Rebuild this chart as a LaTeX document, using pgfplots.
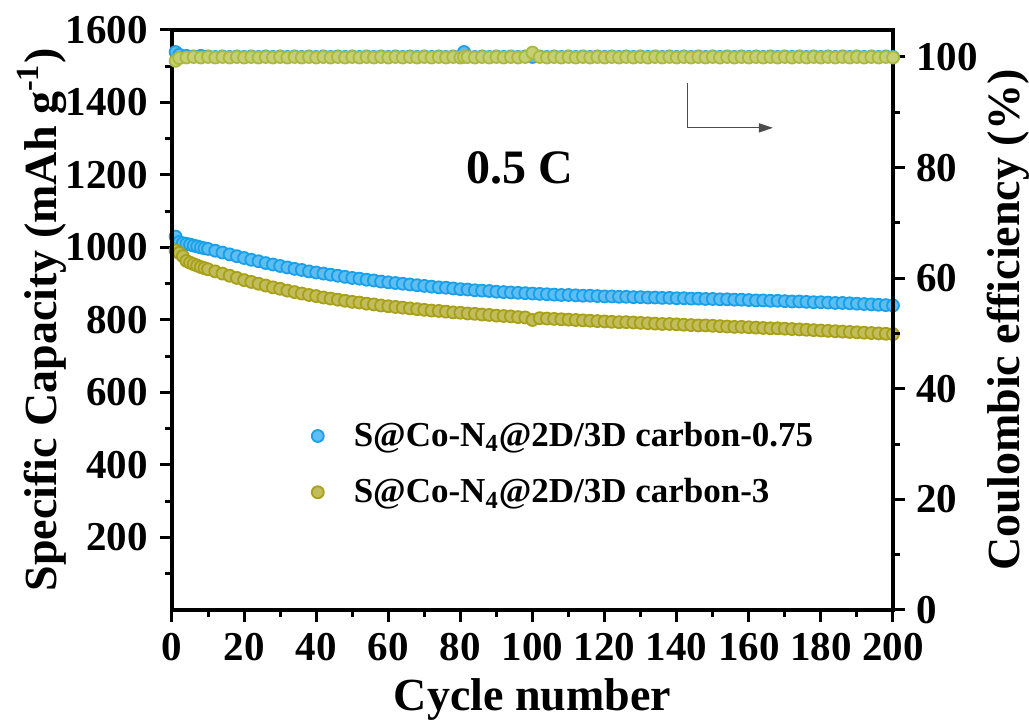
\documentclass[border=0pt]{standalone}
\usepackage{fontspec}
\setmainfont{Liberation Serif}
\usepackage{pgfplots}
\pgfplotsset{compat=1.18}
\usepackage{pgfplotstable}
\usetikzlibrary{arrows.meta}
\definecolor{cblue}{RGB}{25,160,235}
\definecolor{colive}{RGB}{168,160,22}
\definecolor{cgreen}{RGB}{172,186,60}

\pgfplotstableread{
x A B
1 1030 992
2 1015 985
3 1012 976
4 1010 963
5 1008 958
6 1005 954
7 1003 950
8 1000 946
9 998 943
10 996 940
12 991 934
14 986 928
16 981 922
18 976 916
20 971 910
22 966 905
24 962 900
26 957 895
28 953 890
30 949 886
32 945 881
34 941 877
36 938 873
38 934 869
40 931 866
42 928 862
44 925 859
46 922 856
48 919 853
50 916 850
52 914 848
54 911 845
56 909 843
58 906 840
60 904 838
62 902 836
64 900 834
66 898 832
68 896 830
70 894 828
72 892 826
74 890 825
76 889 823
78 887 821
80 885 820
82 884 818
84 882 817
86 881 815
88 880 814
90 878 812
92 877 811
94 876 810
96 875 808
98 874 807
100 873 800
102 872 805
104 871 804
106 870 803
108 869 802
110 869 801
112 868 800
114 867 799
116 867 798
118 866 797
120 865 796
122 865 795
124 864 794
126 864 794
128 863 793
130 863 792
132 862 791
134 862 790
136 861 789
138 861 789
140 860 788
142 860 787
144 859 786
146 859 785
148 858 785
150 858 784
152 857 783
154 857 782
156 856 781
158 856 781
160 855 780
162 854 779
164 854 778
166 853 777
168 853 777
170 852 776
172 851 775
174 851 774
176 850 773
178 849 772
180 849 771
182 848 770
184 847 769
186 847 768
188 846 767
190 845 766
192 844 765
194 843 764
196 842 763
198 841 762
200 840 761
}\captable

\pgfplotstableread{
x A B
1 100.9 99.3
2 100.4 99.8
4 100.2 99.9
6 100.1 100.0
8 100.2 99.9
10 100.1 100.0
12 100.0 99.9
14 100.1 100.0
16 100.0 99.9
18 100.1 100.0
20 100.0 99.9
22 100.1 100.0
24 100.0 99.9
26 100.1 100.0
28 100.0 99.9
30 100.1 100.0
32 100.0 99.9
34 100.1 100.0
36 100.0 99.9
38 100.1 100.0
40 100.0 99.9
42 100.1 100.0
44 100.0 99.9
46 100.1 100.0
48 100.0 99.9
50 100.1 100.0
52 100.0 99.9
54 100.1 100.0
56 100.0 99.9
58 100.1 100.0
60 100.0 99.9
62 100.1 100.0
64 100.0 99.9
66 100.1 100.0
68 100.0 99.9
70 100.1 100.0
72 100.0 99.9
74 100.1 100.0
76 100.0 99.9
78 100.1 100.0
80 100.0 99.9
81 100.9 100.0
82 100.1 100.0
84 100.0 99.9
86 100.1 100.0
88 100.0 99.9
90 100.1 100.0
92 100.0 99.9
94 100.1 100.0
96 100.0 99.9
98 100.1 100.0
100 100.0 100.8
102 100.1 100.0
104 100.0 99.9
106 100.1 100.0
108 100.0 99.9
110 100.1 100.0
112 100.0 99.9
114 100.1 100.0
116 100.0 99.9
118 100.1 100.0
120 100.0 99.9
122 100.1 100.0
124 100.0 99.9
126 100.1 100.0
128 100.0 99.9
130 100.1 100.0
132 100.0 99.9
134 100.1 100.0
136 100.0 99.9
138 100.1 100.0
140 100.0 99.9
142 100.1 100.0
144 100.0 99.9
146 100.1 100.0
148 100.0 99.9
150 100.1 100.0
152 100.0 99.9
154 100.1 100.0
156 100.0 99.9
158 100.1 100.0
160 100.0 99.9
162 100.1 100.0
164 100.0 99.9
166 100.1 100.0
168 100.0 99.9
170 100.1 100.0
172 100.0 99.9
174 100.1 100.0
176 100.0 99.9
178 100.1 100.0
180 100.0 99.9
182 100.1 100.0
184 100.0 99.9
186 100.1 100.0
188 100.0 99.9
190 100.1 100.0
192 100.0 99.9
194 100.1 100.0
196 100.0 99.9
198 100.1 100.0
200 100.0 99.9
}\cetable

\pgfplotsset{mystyle/.style={
  scale only axis, width=360.5pt, height=290pt,
  xmin=0, xmax=200,
  axis line style={line width=1.6pt},
  every tick/.style={line width=1.5pt, black},
  major tick length=6pt, minor tick length=3.5pt,
  tick align=outside,
  tick label style={font=\fontsize{20.5}{24}\selectfont\bfseries},
  /pgf/number format/assume math mode=true,
  /pgf/number format/1000 sep={},
  xticklabel={\pgfmathtruncatemacro\mytick{round(\tick)}\textbf{\mytick}},
  yticklabel={\pgfmathtruncatemacro\mytick{round(\tick)}\textbf{\mytick}},
}}

\begin{document}
\begin{tikzpicture}
\begin{axis}[mystyle, name=ax,
  ymin=0, ymax=1600,
  xtick={0,20,...,200}, minor x tick num=1,
  ytick={200,400,...,1600}, minor ytick={100,300,...,1500},
  xtick pos=bottom, ytick pos=left,
  xticklabel style={yshift=-2pt},
  yticklabel style={xshift=-2.5pt},
  xlabel={Cycle number},
  ylabel={Specific Capacity (mAh g\textsuperscript{-1})},
  every axis x label/.style={at={(axis description cs:0.5,-0.155)}, anchor=center, font=\fontsize{23}{27}\selectfont\bfseries},
  every axis y label/.style={at={(axis description cs:-0.18,0.5)}, rotate=90, anchor=center, font=\fontsize{23}{27}\selectfont\bfseries},
  legend style={at={(axis description cs:0.185,0.338)}, anchor=north west, draw=none, fill=none,
    font=\fontsize{17.5}{21}\selectfont\bfseries, row sep=10.5pt},
  legend cell align=left,
]
\addplot[only marks, mark=*, mark size=3pt, mark options={draw=cblue, fill=cblue!70!white, line width=0.9pt}]
  table[x=x, y=A] {\captable};
\addlegendentry{\hspace{13pt}S@Co-N\textsubscript{4}@2D/3D carbon-0.75}
\addplot[only marks, mark=*, mark size=3pt, mark options={draw=colive, fill=colive!70!white, line width=0.9pt}]
  table[x=x, y=B] {\captable};
\addlegendentry{\hspace{13pt}S@Co-N\textsubscript{4}@2D/3D carbon-3}
\node[font=\fontsize{24}{28}\selectfont\bfseries] at (axis cs:96.5,1219) {0.5 C};
\draw[black!70, line width=0.6pt, -{Triangle[length=7pt,width=4.5pt]}] (axis cs:142.9,1454) |- (axis cs:166.7,1330);
\end{axis}
\begin{axis}[mystyle,
  ymin=0, ymax=104.88,
  hide x axis,
  ytick={0,20,...,100}, minor ytick={10,30,...,90},
  ytick pos=right, yticklabel pos=right,
  yticklabel style={xshift=2pt},
  ylabel={Coulombic efficiency (\%)},
  every axis y label/.style={at={(axis description cs:1.16,0.5)}, rotate=90, anchor=center, font=\fontsize{23}{27}\selectfont\bfseries},
]
\addplot[only marks, mark=*, mark size=3pt, mark options={draw=cblue, fill=cblue!70!white, line width=0.9pt}]
  table[x=x, y=A] {\cetable};
\addplot[only marks, mark=*, mark size=3pt, mark options={draw=cgreen, fill=cgreen!70!white, line width=0.9pt}]
  table[x=x, y=B] {\cetable};
\end{axis}
\pgfresetboundingbox
\path ([xshift=-86pt,yshift=-58pt]ax.south west) rectangle ([xshift=68pt,yshift=15pt]ax.north east);
\end{tikzpicture}
\end{document}
